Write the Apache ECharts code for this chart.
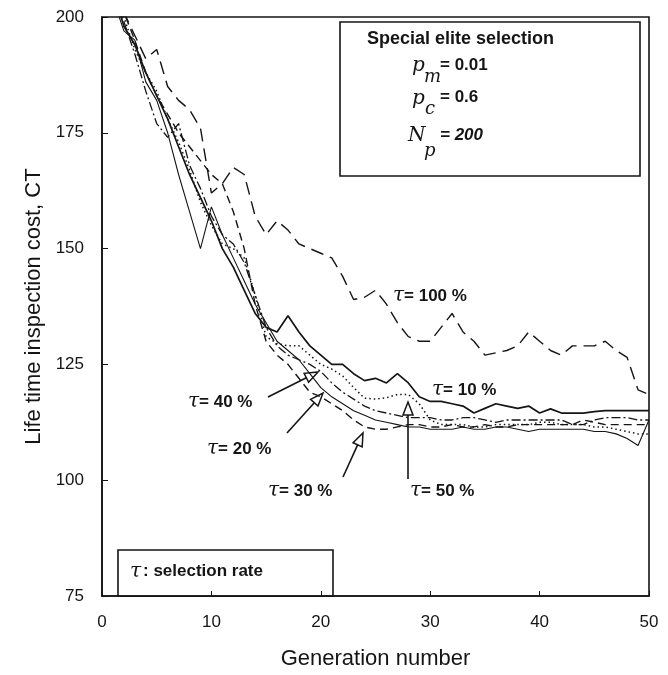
<!DOCTYPE html>
<html>
<head>
<meta charset="utf-8">
<script src="https://cdn.jsdelivr.net/npm/echarts@6/dist/echarts.min.js"></script>
<style>
html, body { margin: 0; padding: 0; background: #fff; }
#chart { width: 668px; height: 675px; }
</style>
</head>
<body>
<div id="chart"></div>
<script>
// generation number
var gens = [0, 1, 2, 3, 4, 5, 6, 7, 8, 9, 10, 11, 12, 13, 14, 15, 16, 17, 18, 19, 20,
  21, 22, 23, 24, 25, 26, 27, 28, 29, 30, 31, 32, 33, 34, 35, 36, 37, 38, 39, 40,
  41, 42, 43, 44, 45, 46, 47, 48, 49, 50]

// life time inspection cost per selection rate
var r10 = [214, 206, 198, 194, 188, 183, 178, 172, 166, 161, 156, 150, 146, 141, 136, 133, 132, 135.5, 132, 129, 127,
  125, 125, 123, 121.5, 122, 121, 123, 121, 118, 117, 117, 116.5, 116, 114.5, 115.5, 116.5, 116, 115.5, 116, 114.5,
  115.4, 114.5, 114.5, 114.5, 114.8, 115, 115, 115, 115, 115]
var r20 = [212, 204, 197, 195, 186, 182, 175, 166, 158, 150, 159, 153, 148, 143, 138, 134, 130, 128, 126, 123, 120,
  118, 116.5, 115, 114, 113, 112.5, 112, 111.5, 111.5, 111, 111, 111, 111.5, 111, 111, 111.5, 111.5, 111, 110.5, 111,
  111, 111, 111, 111, 110.5, 110.5, 110, 109, 107.5, 113]
var r30 = [216, 208, 201, 195, 188, 183, 179, 175, 172, 169, 166, 164, 158, 150, 138, 130, 127, 125, 122, 119, 118,
  116.5, 115, 113, 111.5, 111, 111, 111.5, 112, 112, 111.5, 111.5, 112, 111.5, 111.5, 112, 111.5, 111.5, 112, 112, 112,
  112, 112, 112, 113, 112.5, 112, 112, 112, 112, 112]
var r40 = [213, 205, 199, 192, 184, 177, 174, 177, 168, 163, 157, 153, 151, 147, 140, 133, 129, 127, 126, 125, 123.5,
  121, 119, 117.5, 116, 115, 114.5, 114, 113.5, 113.5, 113.5, 113, 113, 113.5, 113.5, 113, 112.5, 113, 113, 113, 113,
  113, 113, 112, 112, 113, 113.5, 113.5, 113.5, 113, 113]
var r50 = [215, 206, 200, 193, 188, 184, 178, 173, 167, 160, 155, 151, 150, 148, 140, 131, 129.5, 129, 129, 127, 125,
  124, 122.5, 120, 117.7, 117.5, 117.8, 118.5, 118.5, 116.5, 113, 112, 112, 112, 111.5, 111.5, 112, 112, 112, 112, 112.5,
  112.5, 112, 112, 112, 111.5, 111.5, 111, 110.5, 110, 110]
var r100 = [218, 208, 201, 196, 191, 193, 185, 182, 180, 176, 162, 164, 167.5, 166, 157, 153, 156, 154, 151, 150, 149,
  148, 144, 139, 139.5, 141, 138, 134, 131, 130, 130, 133, 136, 132, 130, 127, 127.5, 128, 129, 132, 130,
  128, 127, 129, 129, 129, 130, 128, 126.5, 119.5, 118.5]

var yTicks = [75, 100, 125, 150, 175, 200]
var xTicks = [0, 10, 20, 30, 40, 50]

function pairs(ys) {
  var out = []
  for (var i = 0; i < gens.length; i++) out.push([gens[i], ys[i]])
  return out
}

function curve(name, ys, type, width) {
  return {
    name: name,
    type: 'line',
    data: pairs(ys),
    symbol: 'none',
    clip: true,
    silent: true,
    lineStyle: { color: '#151515', width: width, type: type }
  }
}

var sans = '"Liberation Sans", Arial, sans-serif'
var serif = '"DejaVu Serif", serif'

function arrow(x1, y1, x2, y2) {
  var a = Math.atan2(y2 - y1, x2 - x1)
  var len = 13
  var half = 5
  var bx = x2 - len * Math.cos(a)
  var by = y2 - len * Math.sin(a)
  var px = -Math.sin(a) * half
  var py = Math.cos(a) * half
  return [
    { type: 'line', shape: { x1: x1, y1: y1, x2: bx, y2: by }, style: { stroke: '#151515', lineWidth: 1.6 } },
    { type: 'polygon', shape: { points: [[x2, y2], [bx + px, by + py], [bx - px, by - py]] },
      style: { fill: '#fff', stroke: '#151515', lineWidth: 1.5 } }
  ]
}

function rateLabel(x, y, txt) {
  return {
    type: 'text', left: x, top: y - 11,
    style: {
      text: '{t|τ}{s|= ' + txt + ' %}',
      rich: {
        t: { font: 'italic 20px ' + serif, fill: '#151515' },
        s: { font: 'bold 17px ' + sans, fill: '#151515' }
      }
    }
  }
}

function txt(x, y, s, font) {
  return { type: 'text', left: x, top: y, style: { text: s, font: font, fill: '#151515' } }
}

var chart = echarts.init(document.getElementById('chart'))
chart.setOption({
  animation: false,
  backgroundColor: '#fff',
  grid: {
    left: 102, right: 19, top: 17, bottom: 73,
    show: true, borderColor: '#151515', borderWidth: 1.6, backgroundColor: 'transparent'
  },
  xAxis: {
    type: 'value', min: 0, max: 50, interval: 10,
    name: 'Generation number', nameLocation: 'middle', nameGap: 52,
    nameTextStyle: { fontFamily: sans, fontSize: 22, color: '#151515' },
    axisLine: { lineStyle: { color: '#151515', width: 1.6 } },
    axisTick: { inside: true, length: 5, lineStyle: { color: '#151515' } },
    axisLabel: {
      fontFamily: sans, fontSize: 17, color: '#151515', margin: 18,
      formatter: function (v) { return xTicks.indexOf(v) >= 0 ? String(v) : '' }
    },
    splitLine: { show: false }
  },
  yAxis: {
    type: 'value', min: 75, max: 200, interval: 25,
    name: 'Life time inspection cost, CT', nameLocation: 'middle', nameGap: 55,
    nameTextStyle: { fontFamily: sans, fontSize: 22, color: '#151515' },
    axisLine: { lineStyle: { color: '#151515', width: 1.6 } },
    axisTick: { inside: true, length: 6, lineStyle: { color: '#151515' } },
    axisLabel: {
      fontFamily: sans, fontSize: 17, color: '#151515', margin: 18,
      formatter: function (v) { return yTicks.indexOf(v) >= 0 ? String(v) : '' }
    },
    splitLine: { show: false }
  },
  series: [
    curve('r=10 %', r10, 'solid', 1.7),
    curve('r=20 %', r20, 'solid', 1.1),
    curve('r=30 %', r30, [8, 5], 1.4),
    curve('r=40 %', r40, [9, 3, 2, 3], 1.3),
    curve('r=50 %', r50, [1.5, 3], 1.5),
    curve('r=100 %', r100, [13, 7], 1.4)
  ],
  graphic: [].concat(
    [
      { type: 'rect', shape: { x: 340, y: 22, width: 300, height: 154 },
        style: { fill: '#fff', stroke: '#151515', lineWidth: 1.6 } },
      txt(367, 30, 'Special elite selection', 'bold 18px ' + sans),
      txt(412, 56, 'p', 'italic 20px ' + serif),
      txt(424, 68, 'm', 'italic 18px ' + serif),
      txt(440, 57, '= 0.01', 'bold 17px ' + sans),
      txt(412, 89, 'p', 'italic 20px ' + serif),
      txt(425, 100, 'c', 'italic 18px ' + serif),
      txt(440, 89, '= 0.6', 'bold 17px ' + sans),
      txt(408, 126, 'N', 'italic 20px ' + serif),
      txt(424, 142, 'p', 'italic 18px ' + serif),
      txt(440, 127, '= 200', 'italic bold 17px ' + sans),
      { type: 'rect', shape: { x: 118, y: 550, width: 215, height: 46 },
        style: { fill: '#fff', stroke: '#151515', lineWidth: 1.6 } },
      txt(130, 562, 'τ', 'italic 20px ' + serif),
      txt(143, 563, ': selection rate', 'bold 17px ' + sans),
      rateLabel(393, 297, '100'),
      rateLabel(432, 391, '10'),
      rateLabel(188, 403, '40'),
      rateLabel(207, 450, '20'),
      rateLabel(268, 492, '30'),
      rateLabel(410, 492, '50')
    ],
    arrow(268, 397, 318, 372),
    arrow(287, 433, 323, 393),
    arrow(343, 477, 363, 433),
    arrow(408, 479, 408, 402)
  )
})
</script>
</body>
</html>
